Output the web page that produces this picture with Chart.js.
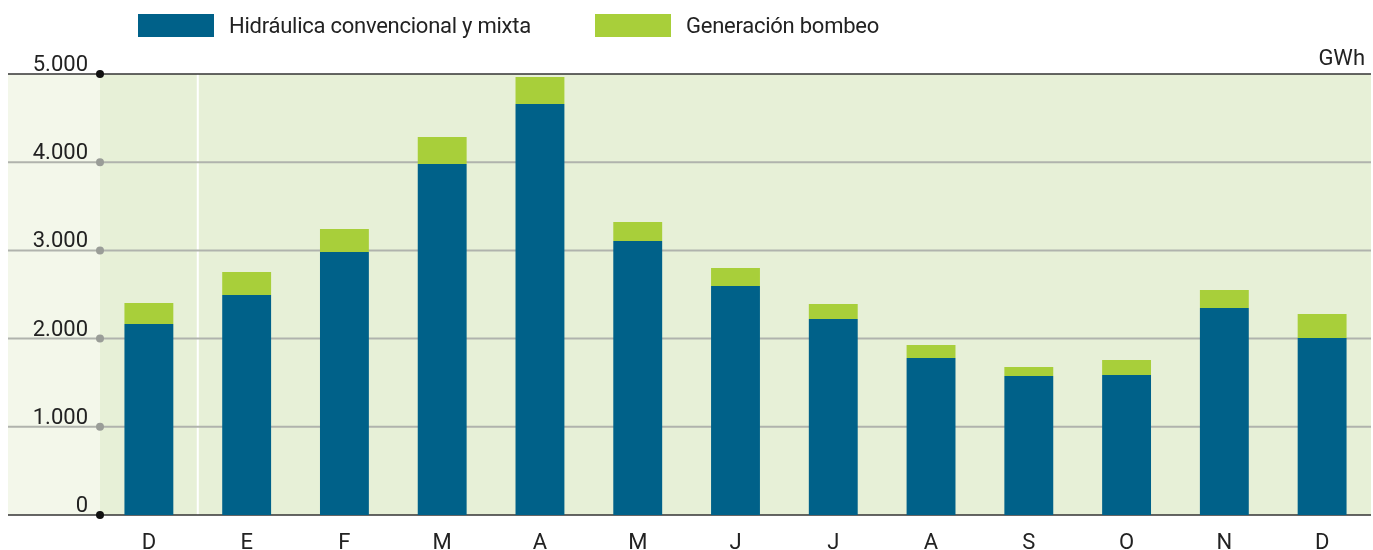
<!DOCTYPE html>
<html lang="es">
<head>
    <meta charset="UTF-8">
    <title>Generación hidráulica mensual</title>
    <script src="https://cdn.jsdelivr.net/npm/chart.js"></script>
    <style>
        body { margin: 0; background: #fff; }
        #wrap { position: relative; width: 1373px; height: 550px; }
        .legend { position: absolute; top: 13px; left: 138px; display: flex; align-items: center;
            font-family: 'Roboto', sans-serif; font-size: 22px; letter-spacing: -0.25px; color: #222; }
        .legend span.box { display: inline-block; width: 76px; height: 23px; margin-right: 15px; }
        .legend .item { display: flex; align-items: center; }
    </style>
</head>
<body>
<div id="wrap">
    <canvas id="chart" width="1373" height="550"></canvas>
    <div class="legend">
        <div class="item" style="width:457px"><span class="box" style="background:#006189"></span>Hidráulica convencional y mixta</div>
        <div class="item"><span class="box" style="background:#a8cf3a"></span>Generación bombeo</div>
    </div>
</div>
<script>
    // months, from December of the previous year to December
    const months = ['D', 'E', 'F', 'M', 'A', 'M', 'J', 'J', 'A', 'S', 'O', 'N', 'D'];
    // GWh
    const hidraulica = [2166, 2494, 2982, 3980, 4660, 3107, 2596, 2222, 1780, 1576, 1587, 2347, 2007];
    const bombeo = [238, 261, 261, 306, 306, 215, 204, 170, 147, 102, 170, 204, 272];
    const yTicks = [0, 1000, 2000, 3000, 4000, 5000];
    const yTickLabels = ['0', '1.000', '2.000', '3.000', '4.000', '5.000'];

    const FONT = "'Roboto', sans-serif";

    // background, grid lines, dots, y labels and the unit label
    const decor = {
        id: 'decor',
        beforeDatasetsDraw(chart) {
            const ctx = chart.ctx;
            const a = chart.chartArea;
            const x = chart.scales.x, y = chart.scales.y;
            const left = 8;
            ctx.save();
            ctx.fillStyle = '#f3f7ea';
            ctx.fillRect(left, a.top, a.left - left, a.bottom - a.top);
            ctx.fillStyle = '#e7f0d7';
            ctx.fillRect(a.left, a.top, a.right - a.left, a.bottom - a.top);

            // white line after the first month
            const sep = (x.getPixelForValue(0) + x.getPixelForValue(1)) / 2;
            ctx.strokeStyle = '#ffffff';
            ctx.lineWidth = 2;
            ctx.beginPath();
            ctx.moveTo(sep, a.top);
            ctx.lineTo(sep, a.bottom);
            ctx.stroke();

            yTicks.forEach(v => {
                const py = y.getPixelForValue(v);
                const edge = v === 0 || v === 5000;
                ctx.strokeStyle = edge ? '#333333' : '#b0b3ad';
                ctx.lineWidth = edge ? 1.5 : 2;
                ctx.beginPath();
                ctx.moveTo(left, py);
                ctx.lineTo(a.right, py);
                ctx.stroke();
            });
            ctx.restore();
        },
        afterDatasetsDraw(chart) {
            const ctx = chart.ctx;
            const a = chart.chartArea;
            const y = chart.scales.y;
            ctx.save();
            ctx.font = '22px ' + FONT;
            ctx.textAlign = 'right';
            ctx.textBaseline = 'alphabetic';
            yTicks.forEach((v, i) => {
                const py = y.getPixelForValue(v);
                const edge = v === 0 || v === 5000;
                ctx.fillStyle = edge ? '#111111' : '#9a9d98';
                ctx.beginPath();
                ctx.arc(a.left, py, 4, 0, Math.PI * 2);
                ctx.fill();
                ctx.fillStyle = '#222';
                ctx.fillText(yTickLabels[i], a.left - 12, py - 3);
            });
            ctx.fillStyle = '#222';
            ctx.textBaseline = 'bottom';
            ctx.fillText('GWh', a.right - 6, a.top - 4);
            ctx.restore();
        }
    };

    new Chart(document.getElementById('chart'), {
        type: 'bar',
        data: {
            labels: months,
            datasets: [{
                label: 'Hidráulica convencional y mixta',
                data: hidraulica,
                backgroundColor: '#006189',
                barPercentage: 0.5,
                categoryPercentage: 1
            }, {
                label: 'Generación bombeo',
                data: bombeo,
                backgroundColor: '#a8cf3a',
                barPercentage: 0.5,
                categoryPercentage: 1
            }]
        },
        options: {
            responsive: false,
            animation: false,
            layout: { padding: { top: 74, right: 2, left: 0, bottom: 0 } },
            plugins: {
                legend: { display: false },
                tooltip: { enabled: false }
            },
            scales: {
                x: {
                    stacked: true,
                    grid: { display: false },
                    border: { display: false },
                    ticks: { color: '#222', font: { family: FONT, size: 22 }, padding: 7 },
                    afterFit(scale) { scale.height = 35; }
                },
                y: {
                    stacked: true,
                    min: 0,
                    max: 5000,
                    grid: { display: false },
                    border: { display: false },
                    ticks: { display: false, stepSize: 1000 },
                    afterFit(scale) { scale.width = 100; }
                }
            }
        },
        plugins: [decor]
    });
</script>
</body>
</html>
